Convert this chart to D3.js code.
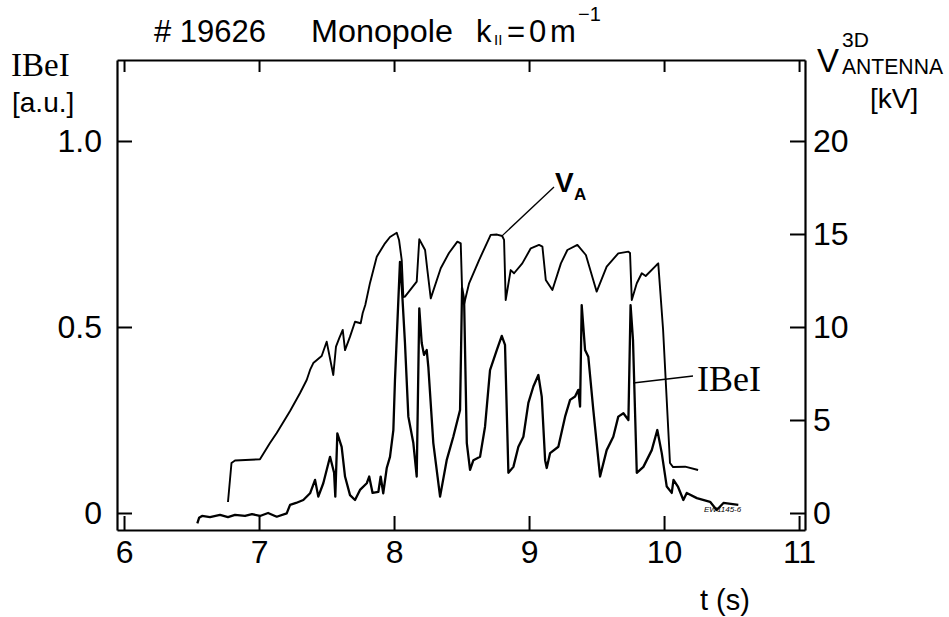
<!DOCTYPE html>
<html>
<head>
<meta charset="utf-8">
<script src="https://cdn.jsdelivr.net/npm/d3@7"></script>
<style>
  html, body { margin: 0; padding: 0; background: #fff; }
  svg { display: block; }
  .sans { font-family: "Liberation Sans", Arial, Helvetica, sans-serif; }
  .serif { font-family: "Liberation Serif", "Times New Roman", serif; }
</style>
</head>
<body>
<svg id="chart" width="949" height="617"></svg>
<script>
// Shot #19626, monopole phasing: Be I line intensity and antenna voltage vs time

// Antenna voltage V_A (kV) on the right-hand axis
const vTime = [6.770, 6.796, 6.822, 7.007, 7.081, 7.131, 7.230, 7.304, 7.353, 7.378, 7.402, 7.464,
  7.501, 7.550, 7.570, 7.595, 7.620, 7.637, 7.674, 7.711, 7.753, 7.768, 7.787, 7.822, 7.872, 7.933,
  7.970, 8.020, 8.037, 8.057, 8.069, 8.081, 8.168, 8.187, 8.230, 8.247, 8.272, 8.346, 8.407, 8.469,
  8.494, 8.507, 8.519, 8.556, 8.630, 8.716, 8.763, 8.801, 8.815, 8.827, 8.864, 8.889, 8.950, 9.013,
  9.074, 9.099, 9.124, 9.173, 9.236, 9.284, 9.358, 9.421, 9.501, 9.575, 9.661, 9.736, 9.748, 9.761,
  9.798, 9.835, 9.864, 9.944, 9.957, 9.993, 10.044, 10.067, 10.156, 10.252];
const vAntenna = [0.59, 2.69, 2.82, 2.89, 3.76, 4.30, 5.48, 6.45, 7.15, 7.69, 8.06, 8.44,
  9.21, 7.42, 8.94, 9.41, 9.84, 8.76, 9.48, 10.28, 10.20, 10.75, 11.18, 12.37, 13.78, 14.50,
  14.84, 15.07, 14.68, 13.60, 11.61, 11.63, 12.44, 14.72, 14.14, 13.06, 11.54, 13.16, 13.98, 14.59,
  14.50, 11.27, 11.24, 12.35, 13.60, 14.95, 14.97, 14.89, 14.68, 11.45, 13.06, 12.89, 13.42, 14.23,
  14.41, 14.32, 12.53, 11.99, 13.42, 14.14, 14.41, 13.87, 11.90, 13.24, 13.96, 14.05, 13.98, 11.45,
  12.35, 12.89, 12.74, 13.33, 13.42, 9.84, 2.69, 2.47, 2.49, 2.31];

// Be I intensity (a.u.) on the left-hand axis
const beTime = [6.543, 6.556, 6.578, 6.637, 6.711, 6.770, 6.822, 6.896, 6.948, 7.007, 7.067, 7.131,
  7.205, 7.230, 7.274, 7.328, 7.378, 7.415, 7.439, 7.476, 7.526, 7.556, 7.565, 7.580, 7.612, 7.637,
  7.674, 7.711, 7.748, 7.798, 7.816, 7.841, 7.884, 7.901, 7.920, 7.946, 7.970, 7.995, 8.007, 8.032,
  8.044, 8.059, 8.081, 8.106, 8.143, 8.168, 8.187, 8.205, 8.222, 8.242, 8.254, 8.291, 8.341, 8.390,
  8.439, 8.489, 8.504, 8.519, 8.539, 8.563, 8.588, 8.637, 8.674, 8.711, 8.761, 8.798, 8.822, 8.847,
  8.884, 8.921, 8.958, 8.995, 9.032, 9.069, 9.094, 9.119, 9.131, 9.156, 9.217, 9.267, 9.304, 9.341,
  9.365, 9.378, 9.390, 9.415, 9.439, 9.476, 9.526, 9.575, 9.624, 9.661, 9.699, 9.736, 9.752, 9.770,
  9.798, 9.847, 9.909, 9.950, 9.983, 10.020, 10.057, 10.070, 10.104, 10.143, 10.168, 10.243, 10.341,
  10.390, 10.440, 10.550];
const beIntensity = [-0.028, -0.013, -0.008, -0.011, -0.005, -0.011, -0.005, -0.008, -0.003, -0.008, 0.000, -0.010,
  -0.001, 0.022, 0.027, 0.035, 0.053, 0.089, 0.044, 0.080, 0.151, 0.108, 0.044, 0.214, 0.178, 0.098,
  0.048, 0.035, 0.062, 0.080, 0.098, 0.054, 0.057, 0.098, 0.053, 0.121, 0.151, 0.223, 0.358, 0.573,
  0.675, 0.599, 0.457, 0.259, 0.188, 0.098, 0.550, 0.457, 0.425, 0.438, 0.393, 0.188, 0.044, 0.142,
  0.205, 0.277, 0.605, 0.573, 0.188, 0.116, 0.142, 0.151, 0.232, 0.384, 0.438, 0.476, 0.452, 0.108,
  0.124, 0.178, 0.205, 0.296, 0.340, 0.371, 0.313, 0.142, 0.121, 0.161, 0.178, 0.259, 0.304, 0.313,
  0.331, 0.286, 0.559, 0.438, 0.420, 0.277, 0.098, 0.169, 0.205, 0.259, 0.268, 0.250, 0.559, 0.465,
  0.108, 0.124, 0.169, 0.223, 0.161, 0.071, 0.054, 0.089, 0.070, 0.035, 0.054, 0.040, 0.030,
  0.008, 0.027, 0.022];

// Axis ticks
const timeTicks = [6, 7, 8, 9, 10, 11];
const beTicks = [0, 0.5, 1.0];
const beTickLabels = ["0", "0.5", "1.0"];
const kvTicks = [0, 5, 10, 15, 20];

const svg = d3.select("#chart");
const frame = { left: 117, right: 805, top: 60, bottom: 530 };

const x = d3.scaleLinear().domain([5.948, 11.044]).range([frame.left, frame.right]);
const yBe = d3.scaleLinear().domain([-0.0457, 1.2177]).range([frame.bottom, frame.top]);
const yKv = d3.scaleLinear().domain([-0.914, 24.354]).range([frame.bottom, frame.top]);

const axisStyle = g => {
  g.attr("font-family", null).attr("font-size", null);
  g.selectAll("path.domain").attr("stroke", "#000").attr("stroke-width", 2.2);
  g.selectAll(".tick line").attr("stroke", "#000").attr("stroke-width", 2);
  g.selectAll(".tick text")
    .attr("class", "sans")
    .attr("fill", "#000")
    .attr("font-size", 32);
};

// Frame: four axes with inward ticks
svg.append("g")
  .attr("transform", `translate(0,${frame.bottom})`)
  .call(d3.axisBottom(x).tickValues(timeTicks).tickFormat(d3.format("d"))
    .tickSizeInner(-14).tickSizeOuter(0).tickPadding(10))
  .call(axisStyle);

svg.append("g")
  .attr("transform", `translate(0,${frame.top})`)
  .call(d3.axisTop(x).tickValues(timeTicks).tickFormat("")
    .tickSizeInner(-12).tickSizeOuter(0))
  .call(axisStyle);

svg.append("g")
  .attr("transform", `translate(${frame.left},0)`)
  .call(d3.axisLeft(yBe).tickValues(beTicks).tickFormat((d, i) => beTickLabels[i])
    .tickSizeInner(-15).tickSizeOuter(0).tickPadding(15))
  .call(axisStyle);

svg.append("g")
  .attr("transform", `translate(${frame.right},0)`)
  .call(d3.axisRight(yKv).tickValues(kvTicks).tickFormat(d3.format("d"))
    .tickSizeInner(-15).tickSizeOuter(0).tickPadding(8))
  .call(axisStyle);

// Traces
const beLine = d3.line().x(d => x(d[0])).y(d => yBe(d[1]));
const kvLine = d3.line().x(d => x(d[0])).y(d => yKv(d[1]));

svg.append("path")
  .datum(vTime.map((t, i) => [t, vAntenna[i]]))
  .attr("d", kvLine)
  .attr("fill", "none").attr("stroke", "#000").attr("stroke-width", 1.9)
  .attr("stroke-linejoin", "round");

svg.append("path")
  .datum(beTime.map((t, i) => [t, beIntensity[i]]))
  .attr("d", beLine)
  .attr("fill", "none").attr("stroke", "#000").attr("stroke-width", 2.3)
  .attr("stroke-linejoin", "round");

// Title
const title = svg.append("text").attr("class", "sans").attr("font-size", 31).attr("y", 42);
title.append("tspan").attr("x", 154)
  .attr("textLength", 112).attr("lengthAdjust", "spacingAndGlyphs").text("# 19626");
title.append("tspan").attr("x", 311)
  .attr("textLength", 142).attr("lengthAdjust", "spacingAndGlyphs").text("Monopole");
title.append("tspan").attr("x", 476).text("k");
title.append("tspan").attr("x", 494).attr("font-size", 15).attr("dy", 3).text("II");
title.append("tspan").attr("x", 507).attr("dy", -3).text("=");
title.append("tspan").attr("x", 529).text("0");
title.append("tspan").attr("x", 550).text("m");
title.append("tspan").attr("x", 578).attr("font-size", 20).attr("dy", -21).text("−1");

// Left axis label
svg.append("text").attr("class", "serif").attr("x", 11).attr("y", 76)
  .attr("font-size", 33).text("IBeI");
svg.append("text").attr("class", "sans").attr("x", 12).attr("y", 112)
  .attr("font-size", 28).text("[a.u.]");

// Right axis label
const vLab = svg.append("text").attr("class", "sans").attr("font-size", 33).attr("y", 72);
vLab.append("tspan").attr("x", 817).text("V");
vLab.append("tspan").attr("x", 842).attr("font-size", 21).attr("y", 47).text("3D");
vLab.append("tspan").attr("x", 842).attr("font-size", 22).attr("y", 74)
  .attr("textLength", 101).attr("lengthAdjust", "spacingAndGlyphs").text("ANTENNA");
svg.append("text").attr("class", "sans").attr("x", 870).attr("y", 108)
  .attr("font-size", 28).text("[kV]");

// Time axis label
svg.append("text").attr("class", "sans").attr("x", 700).attr("y", 610)
  .attr("font-size", 29).text("t (s)");

// Trace annotations with leader lines
svg.append("line")
  .attr("x1", x(8.80)).attr("y1", yKv(14.9))
  .attr("x2", 554).attr("y2", 187)
  .attr("stroke", "#000").attr("stroke-width", 1.3);
const vaLab = svg.append("text").attr("class", "sans").attr("font-weight", "bold").attr("y", 192);
vaLab.append("tspan").attr("x", 555).attr("font-size", 28).text("V");
vaLab.append("tspan").attr("x", 574).attr("font-size", 17).attr("dy", 8).text("A");

svg.append("line")
  .attr("x1", x(9.77)).attr("y1", 383)
  .attr("x2", 693).attr("y2", 376)
  .attr("stroke", "#000").attr("stroke-width", 1.5);
svg.append("text").attr("class", "serif").attr("x", 697).attr("y", 391)
  .attr("font-size", 36).text("IBeI");

// Figure reference number
svg.append("text").attr("class", "sans").attr("x", 704).attr("y", 512)
  .attr("font-size", 8).attr("font-style", "italic").text("EW1145-6");
</script>
</body>
</html>
